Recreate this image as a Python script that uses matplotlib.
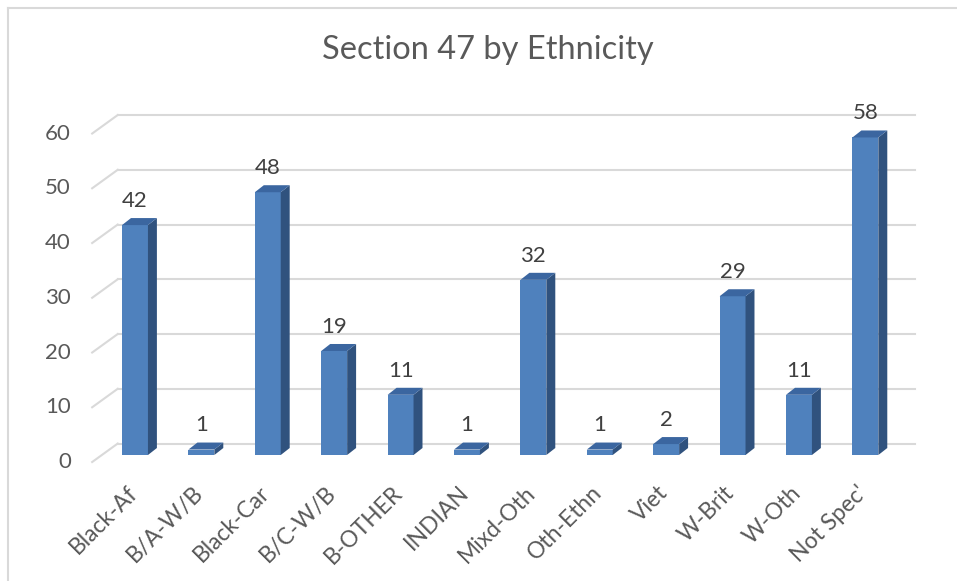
import matplotlib
matplotlib.use('Agg')
from matplotlib import pyplot as plt
from matplotlib.patches import Polygon
from matplotlib.lines import Line2D

# データ
categories = ['Black-Af', 'B/A-W/B', 'Black-Car', 'B/C-W/B', 'B-OTHER', 'INDIAN',
              'Mixd-Oth', 'Oth-Ethn', 'Viet', 'W-Brit', 'W-Oth', "Not Spec'"]
counts = [42, 1, 48, 19, 11, 1, 32, 1, 2, 29, 11, 58]
y_ticks = [0, 10, 20, 30, 40, 50, 60]
title = 'Section 47 by Ethnicity'

plt.rcParams['font.family'] = ['Lato', 'DejaVu Sans']

FRONT = '#4F81BD'
SIDE = '#30527E'
TOP = '#3B66A0'
GRID = '#D9D9D9'
TEXT = '#595959'

# 疑似3Dの奥行き(データ単位)
bar_w = 0.39
depth_dx, depth_dy = 0.135, 1.28      # 棒の奥行き
back_dx, back_dy = 0.24, 2.1          # 奥の壁
front_dx, front_dy = -0.145, -1.28    # 床の手前

fig = plt.figure(figsize=(9.57, 5.81), dpi=100)
ax = fig.add_axes([0, 0, 1, 1])
ax.set_xlim(-2.033, 12.38)
ax.set_ylim(-23.01, 83.11)
ax.axis('off')

n = len(categories)
x_left, x_right = -0.5, n - 0.5

# 目盛り線 (奥の壁と左の側面)
for v in y_ticks:
    ax.plot([x_left + back_dx, x_right + back_dx], [v + back_dy, v + back_dy],
            color=GRID, lw=1.5, zorder=1)
    ax.plot([x_left + front_dx, x_left + back_dx], [v + front_dy, v + back_dy],
            color=GRID, lw=1.5, zorder=1)
    ax.text(x_left + front_dx - 0.32, v + front_dy, str(v), ha='right', va='center',
            fontsize=16, color=TEXT)

# 棒グラフ
for i, v in enumerate(counts):
    x0, x1 = i - bar_w / 2, i + bar_w / 2
    ax.bar(i, v, width=bar_w, color=FRONT, zorder=3)
    ax.add_patch(Polygon([(x1, 0), (x1 + depth_dx, depth_dy),
                          (x1 + depth_dx, v + depth_dy), (x1, v)],
                         closed=True, facecolor=SIDE, edgecolor='none', zorder=3))
    ax.add_patch(Polygon([(x0, v), (x1, v), (x1 + depth_dx, v + depth_dy),
                          (x0 + depth_dx, v + depth_dy)],
                         closed=True, facecolor=TOP, edgecolor='none', zorder=3))
    ax.annotate(str(v), (i, v), xytext=(0, 13), textcoords='offset points',
                ha='center', va='baseline', fontsize=16, color='#404040')

# 横軸ラベル
for i, c in enumerate(categories):
    ax.text(i - 0.02, -6.3, c, rotation=45, rotation_mode='anchor',
            ha='right', va='center', fontsize=16.5, color=TEXT)

ax.text(488 / 957, 1 - 50 / 581, title, transform=ax.transAxes,
        ha='center', va='center', fontsize=23.5, color=TEXT)

# 外枠 (左と上のみ)
fig.add_artist(Line2D([8 / 957, 8 / 957], [0, 1 - 8 / 581], transform=fig.transFigure,
                      color=GRID, lw=1.5))
fig.add_artist(Line2D([8 / 957, 1], [1 - 8 / 581, 1 - 8 / 581], transform=fig.transFigure,
                      color=GRID, lw=1.5))

plt.savefig('out.png', dpi=100)
